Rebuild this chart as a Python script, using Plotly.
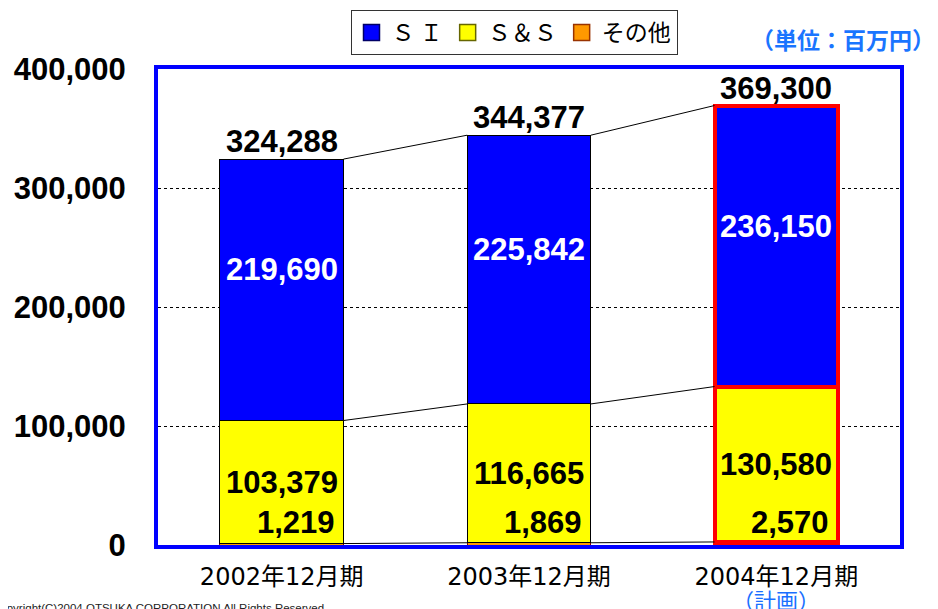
import plotly.graph_objects as go

categories = ["2002年12月期", "2003年12月期", "2004年12月期"]
si_values = [219690, 225842, 236150]
ss_values = [103379, 116665, 130580]
other_values = [1219, 1869, 2570]
totals = [324288, 344377, 369300]
series_names = ["Ｓ Ｉ", "Ｓ＆Ｓ", "その他"]
series_colors = ["#0000FF", "#FFFF00", "#FF9900"]
y_ticks = [0, 100000, 200000, 300000, 400000]

x = list(range(len(categories)))
edge_colors = ["black", "black", "red"]
edge_widths = [1, 1, 4]
other_edges = ["#800000", "#800000", "red"]

BOLD = "Liberation Sans"
JP = "Noto Sans CJK JP"
TICKJP = "DejaVu Sans, Noto Sans CJK JP"

# page is offset by 8px body margin; layout below is in figure coordinates
L, T, R, B = 150, 61, 46, 72
PW, PH = 938 - L - R, 609 - T - B

fig = go.Figure()
fig.add_trace(go.Bar(x=x, y=other_values, name=series_names[2], width=0.5, showlegend=False,
                     marker=dict(color=series_colors[2], line=dict(color=other_edges, width=edge_widths))))
fig.add_trace(go.Bar(x=x, y=ss_values, name=series_names[1], width=0.5, showlegend=False,
                     marker=dict(color=series_colors[1], line=dict(color=edge_colors, width=edge_widths))))
fig.add_trace(go.Bar(x=x, y=si_values, name=series_names[0], width=0.5, showlegend=False,
                     marker=dict(color=series_colors[0], line=dict(color=edge_colors, width=edge_widths))))

# connector lines between bars
cum1 = other_values
cum2 = [o + s for o, s in zip(other_values, ss_values)]
cum3 = [o + s + b for o, s, b in zip(other_values, ss_values, si_values)]
lx, ly = [], []
for cum in (cum1, cum2, cum3):
    for i in range(len(x) - 1):
        lx += [x[i] + 0.25, x[i + 1] - 0.25, None]
        ly += [cum[i], cum[i + 1], None]
fig.add_trace(go.Scatter(x=lx, y=ly, mode="lines", line=dict(color="black", width=1),
                         showlegend=False, hoverinfo="skip"))

# legend entries
legend_edges = ["#000066", "#666600", "#993300"]
for name, col, ec in zip(series_names, series_colors, legend_edges):
    fig.add_trace(go.Scatter(x=[None], y=[None], mode="markers", name=name,
                             marker=dict(symbol="square", size=19, color=col, line=dict(color=ec, width=1.5))))

ann = []
lab_font = dict(family=BOLD, size=31, weight="bold")
for i in x:
    ann.append(dict(x=x[i], y=totals[i], text=f"{totals[i]:,}", showarrow=False,
                    yanchor="bottom", yshift=-2, font=dict(**lab_font, color="black")))
    ann.append(dict(x=x[i], y=cum2[i] + si_values[i] / 2, text=f"{si_values[i]:,}", showarrow=False,
                    yanchor="middle", yshift=20, font=dict(**lab_font, color="white")))
    ann.append(dict(x=x[i], y=other_values[i] + ss_values[i] / 2, text=f"{ss_values[i]:,}", showarrow=False,
                    yanchor="middle", font=dict(**lab_font, color="black")))
    ann.append(dict(x=x[i] + 0.25, y=0, text=f"{other_values[i]:,}", showarrow=False,
                    xanchor="right", yanchor="bottom", xshift=-7, yshift=3,
                    font=dict(**lab_font, color="black")))

ann.append(dict(x=x[2], y=(PH + T - 591) / PH - 0, xref="x", yref="paper", text="（計画）", showarrow=False,
                yanchor="middle", font=dict(family=JP, size=22, color="#1a6fff")))
ann.append(dict(x=(929 - L) / PW, y=(T + PH - 31) / PH, xref="paper", yref="paper",
                text="<b>（単位：百万円）</b>", showarrow=False,
                xanchor="right", yanchor="middle", font=dict(family=JP, size=23, color="#1a75ff")))
ann.append(dict(x=(-18 - L) / PW, y=(T + PH - 592) / PH, xref="paper", yref="paper",
                text="Copyright(C)2004 OTSUKA CORPORATION All Rights Reserved", showarrow=False,
                xanchor="left", yanchor="top", font=dict(family="Liberation Sans", size=11.5, color="#222")))

fig.update_layout(
    width=938, height=609,
    margin=dict(l=L, r=R, t=T, b=B, autoexpand=False),
    barmode="stack",
    plot_bgcolor="white", paper_bgcolor="white",
    showlegend=True,
    legend=dict(orientation="h", x=(506 - L) / PW, xanchor="center", y=(T + PH - 47) / PH, yanchor="bottom",
                traceorder="normal", bordercolor="#333", borderwidth=1,
                font=dict(family=JP, size=23, color="black"), itemwidth=30),
    annotations=ann,
    xaxis=dict(range=[-0.5, 2.5], tickvals=x, ticktext=categories, showgrid=False,
               showline=True, linecolor="#0000FF", linewidth=4, mirror=True, automargin=False,
               ticks="", ticklabelstandoff=7, zeroline=False,
               tickfont=dict(family=TICKJP, size=24, color="black"), fixedrange=True),
    yaxis=dict(range=[0, 400000], tickvals=y_ticks, ticktext=[f"{v:,}" for v in y_ticks],
               showgrid=True, gridcolor="black", griddash="dot", gridwidth=1,
               showline=True, linecolor="#0000FF", linewidth=4, mirror=True, automargin=False,
               zeroline=False, ticks="", ticklabelstandoff=22,
               tickfont=dict(family=BOLD, size=31, color="black", weight="bold"), fixedrange=True),
)

fig.write_html("out.html")
